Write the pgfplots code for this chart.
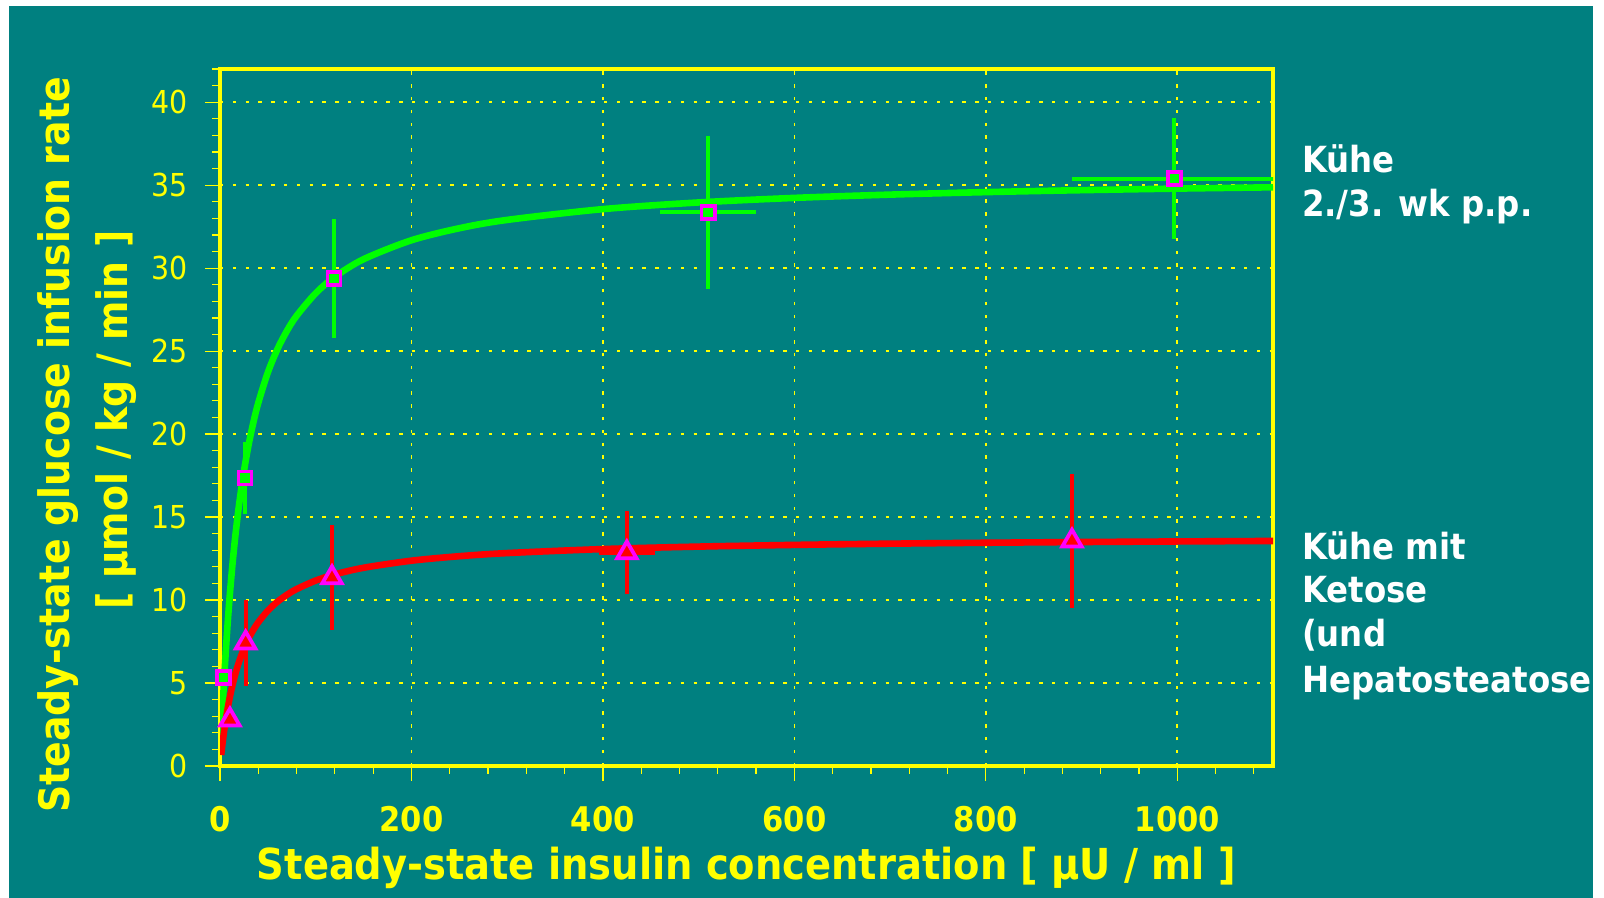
\documentclass[border=0pt]{standalone}
\usepackage{fontspec}
\setmainfont{DejaVu Sans Condensed}
\usepackage{pgfplots}
\usepackage{pgfplotstable}
\pgfplotsset{compat=1.18}
\definecolor{bg}{RGB}{0,128,128}
\definecolor{ylw}{RGB}{255,255,0}
\definecolor{grn}{RGB}{0,255,0}
\definecolor{rd}{RGB}{255,0,0}
\definecolor{mag}{RGB}{255,0,255}

\pgfplotstableread{
x     y      ex    ey
3.5   5.34   0     0
26.1  17.35  0     2.17
119   29.38  0     3.6
510   33.36  50    4.6
997   35.39  107   3.65
}\greenpts

\pgfplotstableread{
x     y      ex    ey
10.4  2.78   0     0
26.8  7.42   0     2.6
117   11.35  0     3.17
425   12.85  29.5  2.49
890   13.56  42    4.03
}\redpts

\begin{document}
\begin{tikzpicture}
\fill[white] (-110pt,-66pt) rectangle (692pt,383pt);
\fill[bg] (-105.5pt,-66pt) rectangle (686.5pt,380pt);
\begin{axis}[
  at={(0pt,0pt)}, anchor=south west,
  scale only axis, width=526.5pt, height=348.5pt,
  xmin=0, xmax=1100, ymin=0, ymax=42,
  xtick={0,200,...,1000}, ytick={0,5,...,40},
  minor xtick={40,80,...,1080}, minor ytick={1,2,...,42},
  xtick pos=bottom, ytick pos=left,
  tick align=outside, major tick length=7.5pt, minor tick length=4pt,
  axis line style={ylw, line width=2pt},
  every tick/.style={ylw, line width=0.6pt},
  grid=major,
  major grid style={ylw, line width=0.85pt, dash pattern=on 1.7pt off 4.7pt},
  /pgf/number format/assume math mode=true,
  xticklabel style={font=\bfseries\fontsize{17}{17}\selectfont, text=ylw, anchor=base, inner sep=0pt, yshift=-25.4pt},
  yticklabel style={font=\fontsize{15.8}{15.8}\selectfont, text=ylw, anchor=east, inner sep=0pt, xshift=-8.5pt},
  /pgf/number format/1000 sep={},
]
\addplot[grn, line width=3.3pt, smooth, no marks] coordinates {
(1.1,1.492) (2,2.623) (4,4.886) (6,6.860) (8,8.595) (10,10.134) (13,12.139) (16,13.852)
(20,15.783) (25,17.764) (30,19.386) (35,20.738) (40,21.883) (50,23.717) (60,25.120)
(70,26.228) (80,27.125) (100,28.490) (120,29.479) (150,30.539) (200,31.679) (250,32.404)
(300,32.906) (400,33.556) (500,33.958) (600,34.232) (700,34.430) (800,34.581)
(900,34.698) (1000,34.793) (1100,34.871)};
\addplot[rd, line width=3.3pt, smooth, no marks] coordinates {
(1.2,0.660) (2,1.066) (4,1.979) (6,2.771) (8,3.464) (10,4.075) (13,4.868) (16,5.542)
(20,6.298) (25,7.069) (30,7.698) (35,8.220) (40,8.660) (50,9.362) (60,9.897)
(70,10.318) (80,10.658) (100,11.174) (120,11.547) (150,11.945) (200,12.371) (250,12.642)
(300,12.830) (400,13.072) (500,13.221) (600,13.323) (700,13.397) (800,13.452)
(900,13.496) (1000,13.531) (1100,13.560)};
\addplot[only marks, mark=square*, mark size=3.3pt,
  mark options={draw=mag, fill=grn, line width=1.8pt},
  error bars/.cd, x dir=both, x explicit, y dir=both, y explicit,
  error bar style={grn, line width=2pt}, error mark=none]
  table[x=x, y=y, x error=ex, y error=ey] {\greenpts};
\addplot[only marks, mark=triangle*, mark size=5.6pt,
  mark options={draw=mag, fill=rd, line width=1.9pt},
  error bars/.cd, x dir=both, x explicit, y dir=both, y explicit,
  error bar style={rd, line width=2pt}, error mark=none]
  table[x=x, y=y, x error=ex, y error=ey] {\redpts};
\end{axis}
\node[rotate=90, anchor=base, text=ylw, font=\bfseries\fontsize{21}{21}\selectfont, inner sep=0pt] at (-75pt,160.5pt) {Steady-state glucose infusion rate};
\node[rotate=90, anchor=base, text=ylw, font=\bfseries\fontsize{21}{21}\selectfont, inner sep=0pt] at (-46pt,173pt) {[ µmol / kg / min ]};
\node[anchor=base, text=ylw, font=\bfseries\fontsize{21.35}{21.35}\selectfont, inner sep=0pt] at (263.25pt,-57pt) {Steady-state insulin concentration [ µU / ml ]};
\begin{scope}[every node/.style={anchor=base west, text=white, font=\bfseries\fontsize{18}{18}\selectfont, inner sep=0pt}]
\node at (540.85pt,296.65pt) {Kühe};
\node at (540.85pt,274.65pt) {2./3. wk p.p.};
\node at (540.85pt,103pt) {Kühe mit};
\node at (540.85pt,81.5pt) {Ketose};
\node at (540.85pt,59.65pt) {(und};
\node at (540.85pt,36.5pt) {Hepatosteatose};
\end{scope}
\fill[white] (686.5pt,-66pt) rectangle (692pt,383pt);
\pgfresetboundingbox
\useasboundingbox (-110pt,-66pt) rectangle (692pt,383pt);
\end{tikzpicture}
\end{document}
